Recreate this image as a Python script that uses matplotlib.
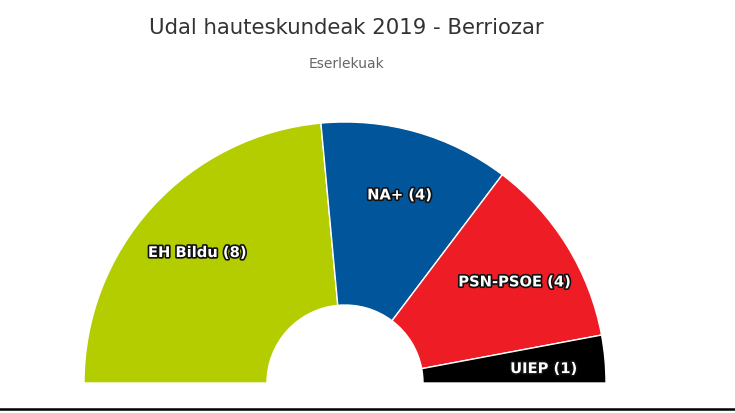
import matplotlib
matplotlib.use('Agg')
import matplotlib.pyplot as plt
import matplotlib.patheffects as pe
import numpy as np

# seats per party
parties = ['EH Bildu', 'NA+', 'PSN-PSOE', 'UIEP']
seats = [8, 4, 4, 1]
colors = ['#b3cd00', '#00559b', '#ee1c25', '#000000']

W, H = 735, 413
fig = plt.figure(figsize=(W / 100, H / 100), dpi=100)
ax = fig.add_axes([0, 0, 1, 1])

cx, cy = 345, H - 383
R, r = 261, 78
total = sum(seats)

# half pie: add an invisible slice equal to the total for the lower half
wedges, _ = ax.pie(seats + [total], colors=colors + ['none'], radius=R, center=(cx, cy),
                   startangle=180, counterclock=False, frame=True,
                   wedgeprops=dict(width=R - r, edgecolor='white', linewidth=1))
wedges[-1].set_visible(False)

# labels along mid angle of each slice
cum = np.cumsum([0] + seats)
for i, name in enumerate(parties):
    mid = np.pi - (cum[i] + seats[i] / 2) / total * np.pi
    lx = cx + 0.765 * R * np.cos(mid)
    ly = cy + 0.765 * R * np.sin(mid) - 4
    ax.text(lx, ly, f'{name} ({seats[i]})', ha='center', va='center', fontsize=10.6,
            fontweight='bold', color='white',
            path_effects=[pe.withStroke(linewidth=2.4, foreground='#111')])

ax.set_xlim(0, W); ax.set_ylim(0, H)
ax.set_aspect('auto')
ax.axis('off')
ax.axhline(4, color='black', lw=1.8)

fig.text(346 / W, 1 - 28 / H, 'Udal hauteskundeak 2019 - Berriozar', ha='center', va='center',
         fontsize=15.3, color='#333333')
fig.text(346 / W, 1 - 64 / H, 'Eserlekuak', ha='center', va='center', fontsize=10, color='#666666')

plt.savefig('out.png', dpi=100)
